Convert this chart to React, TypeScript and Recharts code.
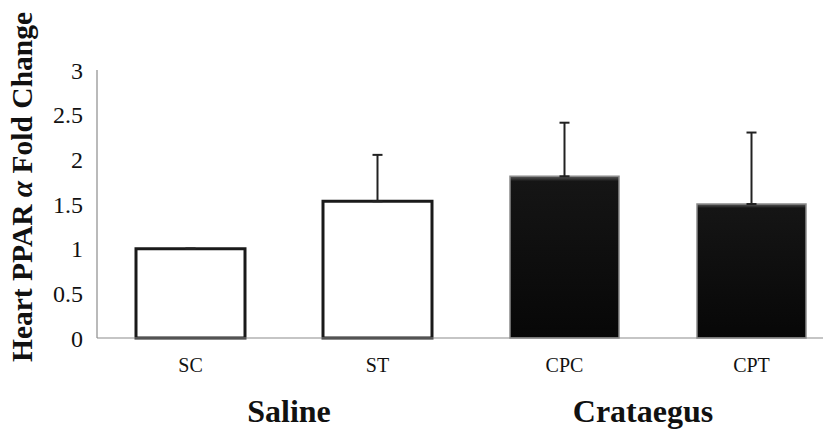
import React from 'react';
import { BarChart, Bar, XAxis, YAxis, Cell, ErrorBar } from 'recharts';

// values
const categories = ['SC', 'ST', 'CPC', 'CPT'];
const foldChange = [1.0, 1.53, 1.81, 1.5];
const errUpper = [0, 0.52, 0.6, 0.8];
const groupOf = ['Saline', 'Saline', 'Crataegus', 'Crataegus'];
const groupLabels = ['Saline', 'Crataegus'];
const yTicks = [0, 0.5, 1, 1.5, 2, 2.5, 3];

const serif = '"Liberation Serif", "DejaVu Serif", serif';

const chartData = categories.map((name, i) => ({
    name,
    value: foldChange[i],
    err: [0, errUpper[i]],
    group: groupOf[i],
}));

// where the group captions sit (page px)
const groupCenters = [289, 643];

export default function App() {
    return (
        <div style={{ position: 'relative', width: 831, height: 432, margin: '-8px 0 0 -8px', overflow: 'hidden', background: '#fff' }}>
            <BarChart
                width={858}
                height={432}
                data={chartData}
                margin={{ top: 70, right: 13, left: 0, bottom: 64 }}
            >
                <defs>
                    <linearGradient id="darkBar" x1="0" y1="0" x2="0" y2="1">
                        <stop offset="0%" stopColor="#5a5a5a" />
                        <stop offset="3%" stopColor="#151515" />
                        <stop offset="100%" stopColor="#070707" />
                    </linearGradient>
                </defs>
                <XAxis
                    dataKey="name"
                    height={30}
                    axisLine={{ stroke: '#8c8c8c', strokeWidth: 1.2 }}
                    tickLine={false}
                    tickMargin={14}
                    tick={{ fill: '#111', fontSize: 20, fontFamily: serif }}
                />
                <YAxis
                    width={97}
                    domain={[0, 3]}
                    ticks={yTicks}
                    interval={0}
                    axisLine={{ stroke: '#8c8c8c', strokeWidth: 1.2 }}
                    tickLine={false}
                    tickMargin={8}
                    tick={{ fill: '#111', fontSize: 24, fontFamily: serif }}
                />
                <Bar dataKey="value" barSize={109} isAnimationActive={false}>
                    {chartData.map((d) => (
                        <Cell
                            key={d.name}
                            fill={d.group === 'Saline' ? '#ffffff' : 'url(#darkBar)'}
                            stroke={d.group === 'Saline' ? '#1a1a1a' : '#8a8a8a'}
                            strokeWidth={d.group === 'Saline' ? 3 : 1.5}
                        />
                    ))}
                    <ErrorBar dataKey="err" direction="y" width={5} stroke="#222" strokeWidth={2} isAnimationActive={false} />
                </Bar>
            </BarChart>
            {/* y axis title */}
            <div
                style={{
                    position: 'absolute',
                    left: 22,
                    top: 187,
                    transform: 'translate(-50%, -50%) rotate(-90deg)',
                    whiteSpace: 'nowrap',
                    fontFamily: serif,
                    fontWeight: 'bold',
                    fontSize: 29.5,
                    color: '#111',
                }}
            >
                Heart PPAR <i>α</i> Fold Change
            </div>
            {/* group titles */}
            {groupLabels.map((g, i) => (
                <div
                    key={g}
                    style={{
                        position: 'absolute',
                        left: groupCenters[i],
                        top: 411,
                        transform: 'translate(-50%, -50%)',
                        whiteSpace: 'nowrap',
                        fontFamily: serif,
                        fontWeight: 'bold',
                        fontSize: 32,
                        color: '#111',
                    }}
                >
                    {g}
                </div>
            ))}
        </div>
    );
}
